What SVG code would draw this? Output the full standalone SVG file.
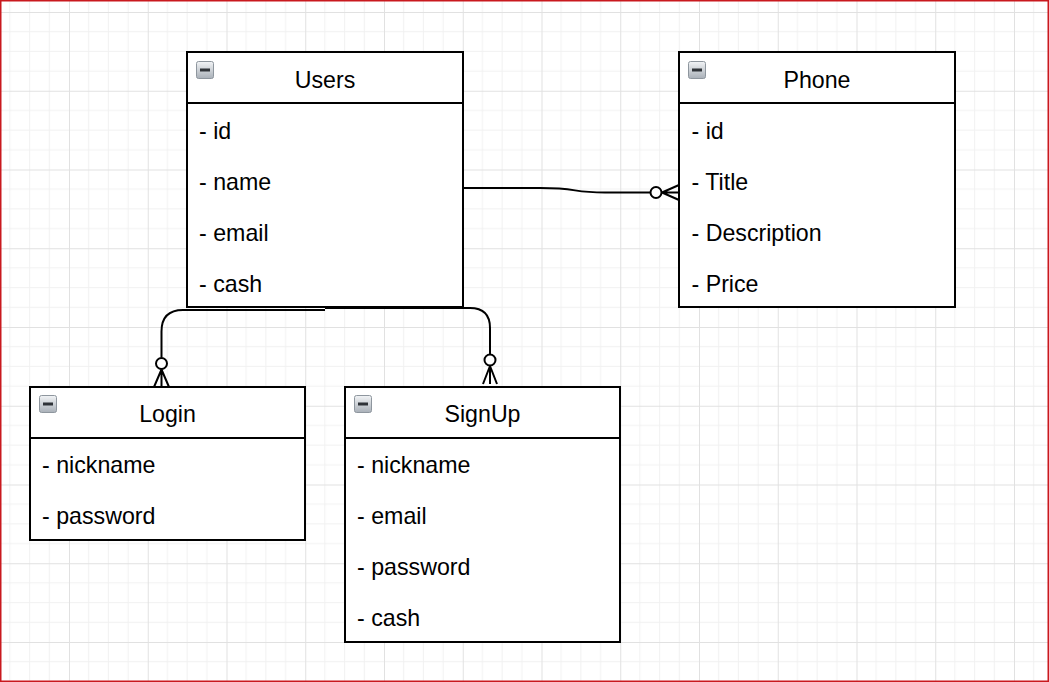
<svg xmlns="http://www.w3.org/2000/svg" width="1049" height="682" viewBox="0 0 1049 682">
<defs>
  <pattern id="grid" patternUnits="userSpaceOnUse" x="-9.75" y="12" width="78.75" height="78.75">
    <path d="M19.69,0V78.75M39.38,0V78.75M59.06,0V78.75M0,19.69H78.75M0,39.38H78.75M0,59.06H78.75" stroke="#f1f1f1" stroke-width="1" fill="none"/>
    <path d="M0.5,0V78.75M0,0.5H78.75" stroke="#e1e1e1" stroke-width="1" fill="none"/>
  </pattern>
  <linearGradient id="ig" x1="0" y1="0" x2="0" y2="1">
    <stop offset="0" stop-color="#f2f4f6"/>
    <stop offset="1" stop-color="#a9b0b8"/>
  </linearGradient>
  <g id="icon">
    <rect x="0.5" y="0.5" width="17" height="17" rx="2" fill="url(#ig)" stroke="#8e969e" stroke-width="1"/>
    <rect x="4" y="7.5" width="10" height="3" fill="#2f3338"/>
  </g>
</defs>
<style>
  .box { fill: #ffffff; stroke: #000000; stroke-width: 2; }
  .sep { stroke: #000000; stroke-width: 2; }
  .t { font-family: "Liberation Sans", Arial, sans-serif; font-size: 23.2px; fill: #000000; }
  .h { text-anchor: middle; }
  .edge { fill: none; stroke: #000000; stroke-width: 2; }
  .ring { fill: #ffffff; stroke: #000000; stroke-width: 2; }
</style>
<rect x="0" y="0" width="1049" height="682" fill="#ffffff"/>
<rect x="0" y="0" width="1049" height="682" fill="url(#grid)"/>
<rect x="0.75" y="0.75" width="1047.5" height="680.5" fill="none" stroke="#c9191e" stroke-width="1.5"/>

<g id="connectors">
  <path class="edge" d="M463,188 L540,188 C580,188 570,192.5 605,192.5 L650.5,192.5"/>
  <circle class="ring" cx="656" cy="192.5" r="5.5"/>
  <path class="edge" d="M662,192.5 L679,185 M662,192.5 L679,192.5 M662,192.5 L679,200"/>

  <path class="edge" stroke-width="1.6" d="M325,310 L183,310 Q161.5,310 161.5,331.5 L161.5,357.5"/>
  <circle class="ring" cx="161.5" cy="363.5" r="5.5"/>
  <path class="edge" d="M161.5,369.5 L154,387 M161.5,369.5 L161.5,387 M161.5,369.5 L169,387"/>

  <path class="edge" d="M325,308 L470,308 Q490,308 490,328 L490,354"/>
  <circle class="ring" cx="490" cy="360" r="5.5"/>
  <path class="edge" d="M490,366 L483,384 M490,366 L490,384 M490,366 L497,384"/>
</g>

<g id="users">
  <rect class="box" x="187" y="52" width="276" height="255"/>
  <line class="sep" x1="187" y1="103" x2="463" y2="103"/>
  <use href="#icon" x="196" y="61"/>
  <text class="t h" x="325" y="87.5">Users</text>
  <text class="t" x="199" y="138.5">- id</text>
  <text class="t" x="199" y="189.5">- name</text>
  <text class="t" x="199" y="240.5">- email</text>
  <text class="t" x="199" y="291.5">- cash</text>
</g>

<g id="phone">
  <rect class="box" x="679" y="52" width="276" height="255"/>
  <line class="sep" x1="679" y1="103" x2="955" y2="103"/>
  <use href="#icon" x="688" y="61"/>
  <text class="t h" x="817" y="87.5">Phone</text>
  <text class="t" x="691.5" y="138.5">- id</text>
  <text class="t" x="691.5" y="189.5">- Title</text>
  <text class="t" x="691.5" y="240.5">- Description</text>
  <text class="t" x="691.5" y="291.5">- Price</text>
</g>

<g id="login">
  <rect class="box" x="30" y="387" width="275" height="153"/>
  <line class="sep" x1="30" y1="438" x2="305" y2="438"/>
  <use href="#icon" x="39" y="395"/>
  <text class="t h" x="167.5" y="422">Login</text>
  <text class="t" x="42" y="473">- nickname</text>
  <text class="t" x="42" y="524">- password</text>
</g>

<g id="signup">
  <rect class="box" x="345" y="387" width="275" height="255"/>
  <line class="sep" x1="345" y1="438" x2="620" y2="438"/>
  <use href="#icon" x="354" y="395"/>
  <text class="t h" x="482.5" y="422">SignUp</text>
  <text class="t" x="357" y="473">- nickname</text>
  <text class="t" x="357" y="524">- email</text>
  <text class="t" x="357" y="575">- password</text>
  <text class="t" x="357" y="626">- cash</text>
</g>
</svg>
